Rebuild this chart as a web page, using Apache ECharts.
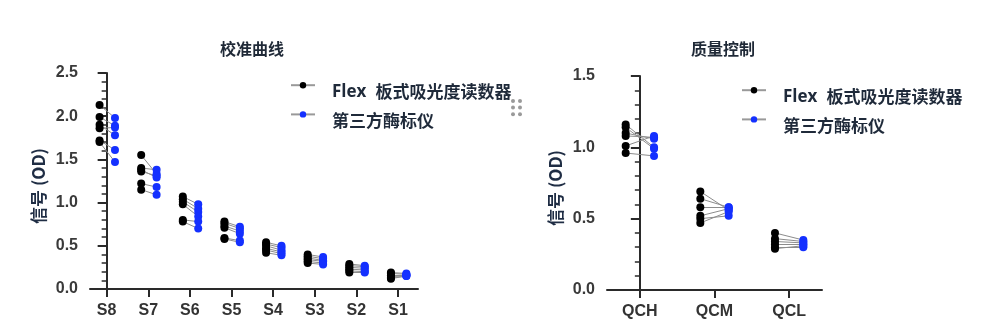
<!DOCTYPE html>
<html>
<head>
<meta charset="utf-8">
<script src="https://cdn.jsdelivr.net/npm/echarts@6/dist/echarts.min.js"></script>
<style>html,body{margin:0;padding:0;background:#fff}#c{width:995px;height:336px}</style>
</head>
<body>
<div id="c"></div>
<script>
// ---- data ----
const calCategories = ['S8', 'S7', 'S6', 'S5', 'S4', 'S3', 'S2', 'S1'];
const calFlex = [
  [2.13, 1.99, 1.90, 1.86, 1.72, 1.70],
  [1.55, 1.40, 1.38, 1.36, 1.22, 1.15],
  [1.07, 1.04, 1.01, 0.98, 0.80, 0.78],
  [0.78, 0.76, 0.73, 0.71, 0.59, 0.58],
  [0.54, 0.52, 0.50, 0.47, 0.45, 0.42],
  [0.40, 0.38, 0.36, 0.34, 0.32, 0.30],
  [0.29, 0.27, 0.25, 0.23, 0.21, 0.19],
  [0.19, 0.18, 0.16, 0.14, 0.13, 0.12]
];
const calThird = [
  [1.98, 1.89, 1.78, 1.87, 1.61, 1.47],
  [1.33, 1.38, 1.29, 1.31, 1.18, 1.09],
  [0.98, 0.93, 0.89, 0.84, 0.78, 0.70],
  [0.72, 0.70, 0.67, 0.64, 0.56, 0.54],
  [0.50, 0.48, 0.45, 0.43, 0.41, 0.39],
  [0.37, 0.35, 0.33, 0.32, 0.30, 0.285],
  [0.27, 0.26, 0.24, 0.22, 0.20, 0.19],
  [0.18, 0.17, 0.16, 0.16, 0.15, 0.15]
];
const qcCategories = ['QCH', 'QCM', 'QCL'];
const qcFlex = [
  [1.16, 1.14, 1.10, 1.08, 1.01, 0.96],
  [0.69, 0.64, 0.58, 0.52, 0.50, 0.47],
  [0.40, 0.36, 0.34, 0.32, 0.30, 0.29]
];
const qcThird = [
  [1.00, 0.99, 1.06, 1.07, 1.08, 0.94],
  [0.56, 0.58, 0.58, 0.57, 0.52, 0.55],
  [0.35, 0.34, 0.33, 0.32, 0.30, 0.31]
];
const calTicks = [0, 0.5, 1.0, 1.5, 2.0, 2.5];
const qcTicks = [0, 0.5, 1.0, 1.5];
const nameFlex = 'Flex 板式吸光度读数器';
const nameThird = '第三方酶标仪';
const titles = ['校准曲线', '质量控制'];
const yName = '信号 (OD)';

// ---- build ----
const BLACK = '#000000', BLUE = '#1430ff', LINK = '#8c8c8c';
const NUM_FONT = '"Liberation Sans", Arial, sans-serif';
const CJK_FONT = '"Noto Sans CJK SC", "Noto Sans", sans-serif';

function pts(groups, off) {
  const out = [];
  groups.forEach((g, i) => g.forEach(v => out.push([i + off, v])));
  return out;
}
function links(a, b, offA, offB) {
  const out = [];
  a.forEach((g, i) => g.forEach((v, k) => out.push({coords: [[i + offA, v], [i + offB, b[i][k]]]})));
  return out;
}

function xAxisFor(idx, cats, min, max) {
  const vals = cats.map((_, i) => i);
  return {
    type: 'value', gridIndex: idx, min: min, max: max,
    splitLine: {show: false},
    axisLine: {show: true, lineStyle: {color: '#2a2a2a', width: 2}},
    axisTick: {show: true, customValues: vals, length: 8, lineStyle: {color: '#2a2a2a', width: 2}},
    axisLabel: {show: true, customValues: vals, margin: 14,
      formatter: v => cats[Math.round(v)] || '',
      fontFamily: NUM_FONT, fontWeight: 'bold', fontSize: 16, color: '#333'}
  };
}
function yAxisFor(idx, ticks) {
  return {
    type: 'value', gridIndex: idx, min: ticks[0], max: ticks[ticks.length - 1], interval: 0.5,
    name: yName, nameLocation: 'middle', nameGap: 43,
    nameTextStyle: {fontFamily: CJK_FONT, fontWeight: 'bold', fontSize: 17, color: '#1f2d44',
      padding: [0, 10, 0, 0]},
    splitLine: {show: false},
    axisLine: {show: true, lineStyle: {color: '#2a2a2a', width: 2}},
    axisTick: {show: true, length: 9, lineStyle: {color: '#2a2a2a', width: 2}},
    minorTick: {show: true, splitNumber: 5, length: 5, lineStyle: {color: '#2a2a2a', width: 1.5}},
    axisLabel: {margin: 12, formatter: v => v.toFixed(1),
      fontFamily: NUM_FONT, fontWeight: 'bold', fontSize: 16, color: '#3a3a3a'}
  };
}
function legendFor(left, top) {
  return {
    orient: 'vertical', left: left, top: top, padding: 0,
    itemWidth: 24, itemHeight: 8, itemGap: 11,
    data: [nameFlex, nameThird],
    formatter: n => n === nameFlex ? '{b|Flex}{s| }{c|板式吸光度读数器}' : '{c|' + n + '}',
    textStyle: {color: '#1f2a3a', padding: [0, 0, 0, 12],
      rich: {
        b: {fontFamily: '"Open Sans", "Noto Sans", sans-serif', fontWeight: 'bold', fontSize: 17,
          color: '#1f2a3a', lineHeight: 30, verticalAlign: 'bottom'},
        s: {fontSize: 17, lineHeight: 30, verticalAlign: 'bottom', width: 9},
        c: {fontFamily: CJK_FONT, fontWeight: 'bold', fontSize: 17, color: '#1f2a3a',
          lineHeight: 30, verticalAlign: 'bottom'}
      }}
  };
}
function scatter(name, xi, data, color) {
  return {type: 'scatter', name: name, xAxisIndex: xi, yAxisIndex: xi, data: data,
    symbol: 'circle', symbolSize: 8, itemStyle: {color: color, opacity: 1}, z: 5, silent: true};
}
function linkSeries(xi, data) {
  return {type: 'lines', coordinateSystem: 'cartesian2d', xAxisIndex: xi, yAxisIndex: xi,
    data: data, lineStyle: {color: LINK, width: 1, opacity: 1}, z: 3, silent: true};
}
function dummy(name, color) {
  return {type: 'line', name: name, xAxisIndex: 0, yAxisIndex: 0, data: [],
    symbol: 'circle', symbolSize: 7,
    itemStyle: {color: color}, lineStyle: {color: '#999', width: 1.5}};
}

const offF = -0.17, offT = 0.20, offFq = -0.19, offTq = 0.19;
const option = {
  animation: false,
  backgroundColor: '#ffffff',
  title: [
    {text: titles[0], left: 247, top: 36, textAlign: 'center',
      textStyle: {fontFamily: CJK_FONT, fontWeight: 'bold', fontSize: 16, color: '#1f2937'}},
    {text: titles[1], left: 718, top: 36, textAlign: 'center',
      textStyle: {fontFamily: CJK_FONT, fontWeight: 'bold', fontSize: 16, color: '#1f2937'}}
  ],
  legend: [legendFor(290, 82), legendFor(741, 87)],
  grid: [
    {left: 90, top: 73, width: 328, height: 216},
    {left: 607, top: 76, width: 215, height: 214}
  ],
  xAxis: [xAxisFor(0, calCategories, -0.4, 7.48), xAxisFor(1, qcCategories, -0.44, 2.44)],
  yAxis: [yAxisFor(0, calTicks), yAxisFor(1, qcTicks)],
  graphic: [0, 1].flatMap(c => [0, 1, 2].map(r => ({
    type: 'circle', shape: {cx: 513 + c * 7, cy: 101 + r * 6.6, r: 2},
    style: {fill: '#9a9a9a'}, silent: true
  }))),
  series: [
    dummy(nameFlex, BLACK),
    dummy(nameThird, BLUE),
    linkSeries(0, links(calFlex, calThird, offF, offT)),
    scatter('cal-flex', 0, pts(calFlex, offF), BLACK),
    scatter('cal-third', 0, pts(calThird, offT), BLUE),
    linkSeries(1, links(qcFlex, qcThird, offFq, offTq)),
    scatter('qc-flex', 1, pts(qcFlex, offFq), BLACK),
    scatter('qc-third', 1, pts(qcThird, offTq), BLUE)
  ]
};
const chart = echarts.init(document.getElementById('c'), null, {renderer: 'canvas'});
chart.setOption(option);
</script>
</body>
</html>
